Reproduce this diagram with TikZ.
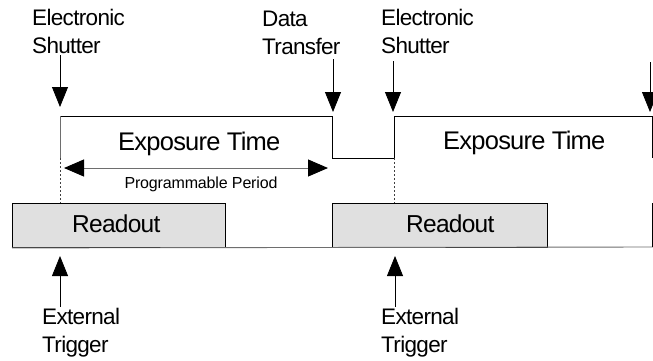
\documentclass[tikz,border=0pt]{standalone}
\usepackage{fontspec}
\setmainfont{Liberation Sans}
\newfontfamily\tightfont[LetterSpace=-3]{Liberation Sans}
\newfontfamily\lessfont[LetterSpace=-1]{Liberation Sans}
\usetikzlibrary{arrows.meta}
\definecolor{boxfill}{HTML}{E0E0E0}
\definecolor{linegray}{HTML}{6E6E6E}
\tikzset{
  lbl/.style={inner sep=0pt, align=left, font=\tightfont\fontsize{22.5}{28}\selectfont},
  bigtxt/.style={inner sep=0pt, font=\tightfont\fontsize{25.5}{28}\selectfont},
  rotxt/.style={inner sep=0pt, font=\tightfont\fontsize{24.5}{28}\selectfont},
  smalltxt/.style={inner sep=0pt, font=\lessfont\fontsize{16}{18}\selectfont},
  wave/.style={line width=0.9pt, black},
  edge/.style={line width=0.9pt, linegray},
  marker/.style={line width=0.7pt, dash pattern=on 2pt off 2pt, black!75},
  pointer/.style={line width=0.8pt, -{Triangle[length=20pt,width=16pt]}},
  span/.style={line width=1pt, linegray,
    {Triangle[length=20pt,width=17pt,fill=black,color=black]}-{Triangle[length=20pt,width=17pt,fill=black,color=black]}},
  readoutbox/.style={draw, line width=0.9pt, fill=boxfill, inner sep=0pt, anchor=north west}
}
\begin{document}
\begin{tikzpicture}[x=1pt,y=-1pt]
\useasboundingbox[fill=white] (0,0) rectangle (653,360);

% exposure waveform corners
\coordinate (r1b) at (60,158);
\coordinate (r1)  at (60,116);
\coordinate (f1)  at (332,116);
\coordinate (f1b) at (332,158);
\coordinate (r2b) at (394,158);
\coordinate (r2)  at (394,116);
\coordinate (f2)  at (652,116);
\coordinate (f2b) at (652,158);

% waveform
\draw[wave] (r1) -- (f1) -- (f1b) -- (r2b) -- (r2) -- (f2) -- (f2b);
\draw[edge] (r1b) -- (r1);

% trigger markers
\coordinate (m1) at (60,232);
\coordinate (m2) at (394,230);
\draw[marker] (r1b) -- (m1);
\draw[marker] (r2b) -- (m2);

% readout boxes and time base
\node[readoutbox, minimum width=213pt, minimum height=44pt] (ro1) at (12,203) {};
\node[readoutbox, minimum width=215pt, minimum height=44pt] (ro2) at (332,203) {};
\coordinate (baseend) at (653,247);
\coordinate (ro3b) at (652,247);
\coordinate (ro3t) at (652,203);
\draw[edge] (ro1.south west) -- (baseend);
\draw[line width=0.9pt] (ro3b) -- (ro3t);
\node[rotxt, anchor=base west] (rt1) at (72,232) {Readout};
\node[rotxt, anchor=base west] (rt2) at (406,232) {Readout};

% texts in the exposure windows
\node[bigtxt, anchor=base west] (ex1) at (118,150) {Exposure Time};
\node[bigtxt, anchor=base west] (ex2) at (443,149) {Exposure Time};

% programmable period
\coordinate (pa) at (64,168);
\coordinate (pb) at (328,168);
\draw[span] (pa) -- (pb);
\node[smalltxt, anchor=base] (pp) at (201,188) {Programmable Period};

% labels above (anchored on the baseline of their second line)
\node[lbl, anchor=base west] (es1) at (32,53) {Electronic\\Shutter};
\node[lbl, anchor=base west] (dt)  at (262,54) {Data\\Transfer};
\node[lbl, anchor=base west] (es2) at (381,53) {Electronic\\Shutter};

\coordinate (es1tip) at (60,107);
\coordinate (dttip)  at (333,112);
\coordinate (es2tip) at (393,112);
\coordinate (nxtop)  at (650,62);
\coordinate (nxtip)  at (650,112);
\draw[pointer] (es1.south -| es1tip) ++(0,2) -- (es1tip);
\draw[pointer] (dt.south -| dttip) ++(0,5) -- (dttip);
\draw[pointer] (es2.south -| es2tip) ++(0,8) -- (es2tip);
\draw[pointer] (nxtop) -- (nxtip);

% labels below
\node[lbl, anchor=base west] (et1) at (42,352) {External\\Trigger};
\node[lbl, anchor=base west] (et2) at (381,352) {External\\Trigger};
\coordinate (et1tip) at (60,256);
\coordinate (et2tip) at (395,256);
\draw[pointer] (et1.north -| et1tip) ++(0,-1) -- (et1tip);
\draw[pointer] (et2.north -| et2tip) ++(0,-1) -- (et2tip);
\end{tikzpicture}
\end{document}
